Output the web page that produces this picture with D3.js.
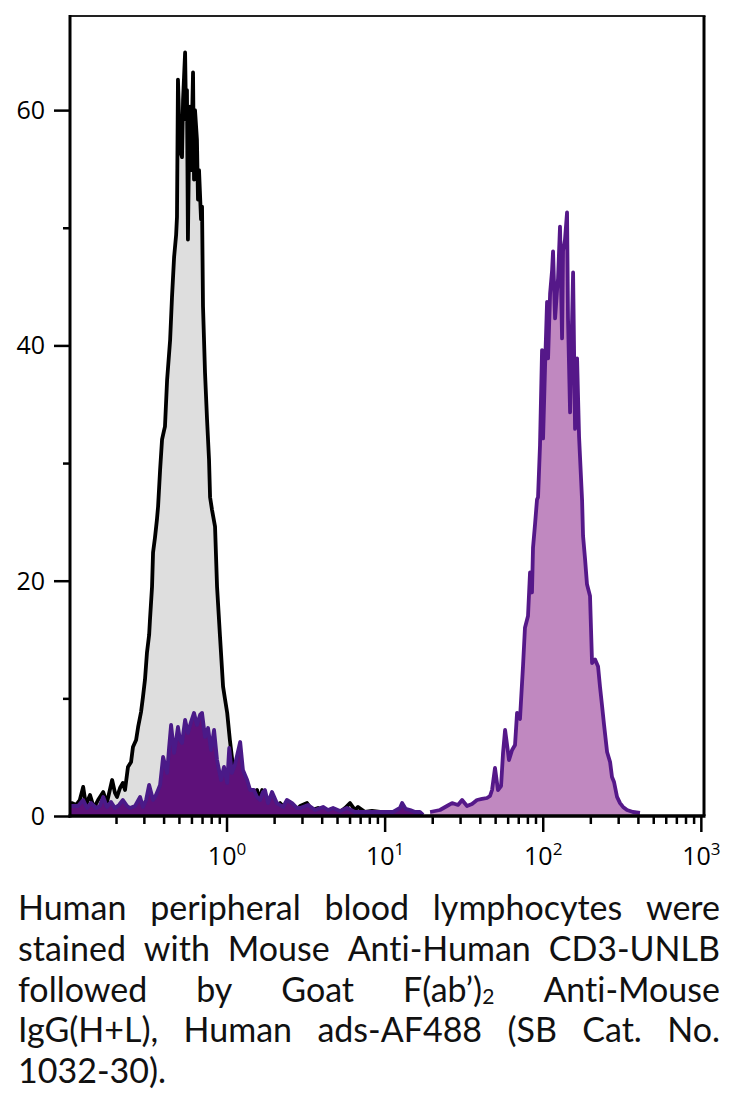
<!DOCTYPE html>
<html><head><meta charset="utf-8">
<script src="https://cdn.jsdelivr.net/npm/d3@7"></script>
<style>html,body{margin:0;padding:0;background:#fff;} svg{display:block;} text{font-variant-ligatures:none;font-feature-settings:"liga" 0,"clig" 0;}</style>
</head><body>
<svg id="chart" width="732" height="1112"></svg>
<script>
// ---- data (fluorescence intensity, cell count) ----
const grayX = [0.102,0.105,0.112,0.118,0.124,0.129,0.137,0.145,0.154,0.166,0.175,0.189,0.197,0.203,0.212,0.221,0.228,0.238,0.249,0.256,0.268,0.276,0.288,0.296,0.305,0.314,0.324,0.328,0.338,0.343,0.353,0.363,0.369,0.380,0.391,0.403,0.408,0.421,0.440,0.452,0.466,0.480,0.486,0.493,0.508,0.523,0.531,0.547,0.555,0.562,0.570,0.579,0.587,0.596,0.614,0.623,0.632,0.650,0.660,0.670,0.690,0.700,0.710,0.731,0.753,0.775,0.787,0.810,0.846,0.871,0.910,0.951,0.979,1.01,1.05,1.10,1.13,1.17,1.22,1.27,1.33,1.41,1.49,1.56,1.63,1.68,1.78,1.89,2.03,2.18,2.34,2.52,2.75,2.92,3.23,3.47,3.79,4.20,4.65,5.22,5.62,6.04,6.50,6.79,7.52,8.32,9.35,10.8,12.5,16.7];
const grayY = [0.26,1.1,0.94,1.36,2.47,0.94,1.79,0.68,1.36,2.04,1.1,3.06,1.96,1.62,2.38,2.81,2.21,4.17,4.59,5.87,6.46,7.57,8.84,10.1,11.6,13.9,15.4,16.7,19.5,22.4,23.7,25.2,26.3,29.4,32.0,32.8,33.1,37.1,40.5,44.1,47.5,49.4,50.9,62.6,56.6,56.0,60.9,64.9,59.2,61.7,49.0,56.6,60.3,54.9,63.2,54.1,60.0,57.5,52.4,54.9,50.7,51.8,43.3,37.7,33.7,30.3,27.1,26.0,24.6,19.5,15.2,11.0,9.9,8.76,6.46,4.17,3.91,3.66,2.64,1.79,2.21,1.36,1.96,2.21,1.36,2.21,0.94,1.36,0.85,1.1,0.68,0.94,0.51,0.85,1.1,0.51,0.68,0.34,0.6,0.34,0.68,1.1,0.51,0.77,0.34,0.43,0.34,0.17,0.085,0.085];

const darkX = [0.102,0.105,0.115,0.124,0.131,0.139,0.150,0.158,0.166,0.175,0.186,0.197,0.209,0.221,0.235,0.245,0.264,0.284,0.296,0.310,0.324,0.343,0.358,0.369,0.380,0.397,0.421,0.433,0.446,0.466,0.480,0.493,0.508,0.523,0.547,0.570,0.596,0.623,0.650,0.680,0.700,0.731,0.764,0.798,0.834,0.871,0.923,0.964,1.01,1.04,1.08,1.13,1.22,1.27,1.35,1.41,1.49,1.56,1.63,1.70,1.75,1.83,1.94,2.08,2.28,2.41,2.60,2.79,2.92,3.28,3.63,4.08,4.39,4.72,5.22,5.78,6.50,7.74,9.35,11.3,12.5,12.9,13.6,14.5,15.6,16.7,17.5];
const darkY = [0.85,0.85,0.85,1.36,0.68,1.1,0.68,0.85,1.62,0.77,1.19,0.68,0.94,1.36,0.85,0.68,0.85,1.62,0.77,1.36,2.64,1.36,1.79,2.21,2.64,5.02,3.66,5.78,7.74,5.36,6.46,7.57,6.46,6.21,8.16,7.06,7.99,8.76,7.74,8.59,8.76,6.72,7.48,5.61,7.31,4.76,3.06,4.17,2.81,5.78,3.66,4.34,6.29,3.91,3.06,2.21,2.21,1.62,1.36,2.04,2.21,1.1,2.04,1.1,0.77,1.36,1.1,0.68,0.68,0.94,0.51,0.77,0.51,0.68,0.43,0.68,0.34,0.34,0.34,0.34,0.68,1.1,0.6,0.51,0.34,0.34,0.085];

const lightX = [19.4,22.4,24.8,26.7,29.1,30.9,33.2,35.7,38.4,41.3,44.4,46.4,47.8,49.9,52.1,54.5,56.1,57.8,59.5,61.2,64.0,66.8,68.8,71.8,75.0,77.2,80.7,83.1,85.5,86.8,89.4,92.0,93.4,96.1,99.0,100.5,103.5,106.5,108.1,111.3,114.6,116.2,119.7,123.2,125.0,128.6,132.5,134.4,138.3,142.5,144.5,148.9,155.6,160.1,164.9,169.8,177.4,179.9,185.3,190.5,199.1,205.1,214.3,223.9,230.2,237.1,244.3,255.3,266.7,274.2,282.5,295.1,308.3,322.1,341.3,372.4,412.1];
const lightY = [0.34,0.51,0.85,1.1,0.94,1.36,0.85,1.02,1.36,1.45,1.53,1.7,2.21,4.08,2.21,2.55,5.36,7.31,6.04,4.76,5.61,6.04,8.76,8.25,12.7,16.0,17.0,20.7,19.0,22.8,24.8,26.9,27.1,31.5,39.6,32.1,38.3,43.7,38.9,44.4,46.4,48.0,42.3,44.7,45.7,50.1,40.6,48.0,49.0,51.3,42.3,34.3,46.2,32.9,38.9,32.2,26.8,23.8,21.8,19.7,18.7,13.0,13.3,12.7,11.0,9.4,7.74,5.44,4.59,3.32,2.89,1.62,1.1,0.77,0.51,0.34,0.26];

const yMajorTicks = [0, 20, 40, 60];
const yMinorTicks = [10, 30, 50];
const xMajorTicks = [1, 10, 100, 1000];
const xMajorExponents = ["0", "1", "2", "3"];
const xMinorTicks = [0.2,0.3,0.4,0.5,0.6,0.7,0.8,0.9, 2,3,4,5,6,7,8,9, 20,30,40,50,60,70,80,90, 200,300,400,500,600,700,800,900];

const captionLines = [
  ["Human","peripheral","blood","lymphocytes","were"],
  ["stained","with","Mouse","Anti-Human","CD3-UNLB"],
  ["followed","by","Goat","F(ab\u2019)|2","Anti-Mouse"],
  ["IgG(H+L),","Human","ads-AF488","(SB","Cat.","No."],
  ["1032-30)."]
];

// ---- drawing ----
const FONT = "'Open Sans', 'Noto Sans', sans-serif";
const CAPFONT = "Lato, 'Open Sans', sans-serif";
const svg = d3.select("#chart");
svg.append("rect").attr("width", 732).attr("height", 1112).attr("fill", "#fff");

const L = 70, R = 704, T = 16, B = 816;
const x = d3.scaleLog().domain([Math.pow(10, -0.99), Math.pow(10, 3.02)]).range([L, R]);
const y = d3.scaleLinear().domain([0, 68]).range([B, T]);

svg.append("clipPath").attr("id", "clip")
  .append("rect").attr("x", L).attr("y", T).attr("width", R - L).attr("height", B - T);

const plot = svg.append("g").attr("clip-path", "url(#clip)");
const area = d3.area().x(d => x(d[0])).y0(y(0)).y1(d => y(d[1]));
const line = d3.line().x(d => x(d[0])).y(d => y(d[1]));

function series(xs, ys, fill, stroke) {
  const data = d3.zip(xs, ys);
  plot.append("path").datum(data).attr("d", area).attr("fill", fill);
  plot.append("path").datum(data).attr("d", line).attr("fill", "none")
    .attr("stroke", stroke).attr("stroke-width", 3.8).attr("stroke-linejoin", "round");
}
series(grayX, grayY, "#dedede", "#000");
series(darkX, darkY, "#5e117a", "#4a1a88");
series(lightX, lightY, "#c088c0", "#551889");

// axes
function styleAxis(g) {
  g.select(".domain").remove();
  g.selectAll(".tick line").attr("stroke", "#000").attr("stroke-width", 2.5);
}
svg.append("g").attr("transform", `translate(${L},0)`)
  .call(d3.axisLeft(y).tickValues(yMajorTicks).tickSize(16).tickPadding(9).tickFormat(d3.format("d")))
  .call(styleAxis)
  .call(g => g.selectAll("text").attr("font-family", FONT).attr("font-size", 25).attr("fill", "#000").attr("dy", "0.34em"));
svg.append("g").attr("transform", `translate(${L},0)`)
  .call(d3.axisLeft(y).tickValues(yMinorTicks).tickSize(7).tickFormat(""))
  .call(styleAxis);

svg.append("g").attr("transform", `translate(0,${B})`)
  .call(d3.axisBottom(x).tickValues(xMinorTicks).tickSize(8).tickFormat(""))
  .call(styleAxis);
const xg = svg.append("g").attr("transform", `translate(0,${B})`)
  .call(d3.axisBottom(x).tickValues(xMajorTicks).tickSize(16).tickFormat(""))
  .call(styleAxis);
xg.selectAll(".tick").each(function(d, i) {
  const t = d3.select(this).select("text");
  t.text(null).attr("y", 49).attr("dy", 0).attr("font-family", FONT).attr("font-size", 25)
   .attr("fill", "#000").attr("text-anchor", "middle");
  t.append("tspan").text("10");
  t.append("tspan").attr("font-size", 17).attr("dy", -10).text(xMajorExponents[i]);
});

// frame
const frame = svg.append("g").attr("stroke", "#000").attr("fill", "none");
frame.append("line").attr("x1", L).attr("x2", R + 1.5).attr("y1", T).attr("y2", T).attr("stroke-width", 2).attr("stroke", "#222");
frame.append("line").attr("x1", R).attr("x2", R).attr("y1", T).attr("y2", B).attr("stroke-width", 3);
frame.append("line").attr("x1", L).attr("x2", L).attr("y1", T - 1).attr("y2", B + 1.5).attr("stroke-width", 3);
frame.append("line").attr("x1", L - 1.5).attr("x2", R + 1.5).attr("y1", B).attr("y2", B).attr("stroke-width", 3.5);

// caption (justified, one text per line, words as positioned tspans)
const capL = 18, capR = 720, capTop = 920, capStep = 40.75;
const cap = svg.append("g").attr("font-family", CAPFONT).attr("fill", "#111");
function layout(size) {
  cap.selectAll("*").remove();
  let maxReq = 0;
  captionLines.forEach((words, li) => {
    const yPos = capTop + li * capStep;
    const t = cap.append("text").attr("font-size", size).attr("y", yPos);
    const parts = words.map(w => {
      const [base, sub] = w.split("|");
      const b = t.append("tspan").attr("y", yPos).text(base);
      let s = null;
      if (sub) s = t.append("tspan").attr("font-size", size * 0.62).attr("y", yPos + 2).text(sub);
      return {b, s};
    });
    const ws = parts.map(p => p.b.node().getComputedTextLength() + (p.s ? p.s.node().getComputedTextLength() : 0));
    const sum = d3.sum(ws);
    const space = size * 0.25;
    const last = li === captionLines.length - 1;
    if (!last) maxReq = Math.max(maxReq, sum + space * (words.length - 1));
    const gap = last ? space : (capR - capL - sum) / (words.length - 1);
    let cx = capL;
    parts.forEach((p, i) => {
      p.b.attr("x", cx);
      if (p.s) p.s.attr("x", cx + p.b.node().getComputedTextLength());
      cx += ws[i] + gap;
    });
  });
  return maxReq;
}
const req = layout(34);
if (req > capR - capL) layout(34 * (capR - capL) / req);
</script>
</body></html>
